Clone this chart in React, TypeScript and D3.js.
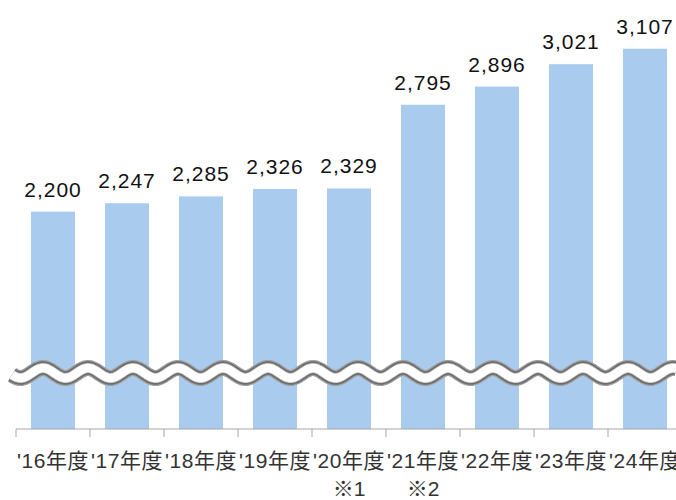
import React from 'react'
import * as d3 from 'd3'

const categories = ["'16年度", "'17年度", "'18年度", "'19年度", "'20年度", "'21年度", "'22年度", "'23年度", "'24年度"]
const values = [2200, 2247, 2285, 2326, 2329, 2795, 2896, 3021, 3107]
const notes = ['', '', '', '', '※1', '※2', '', '', '']

const width = 676
const height = 500
const baseY = 429
const fontFamily = '"Liberation Sans", Arial, "Noto Sans CJK JP", sans-serif'

export default function App() {
  // one band per fiscal year, ticks sit on the band edges
  const x = d3.scaleBand().domain(categories).range([16, 16 + 74 * categories.length])
  // axis is broken, so the bars start somewhere near 1000
  const y = d3.scaleLinear().domain([990, 3200]).range([baseY, 32])
  const barW = x.bandwidth() * 0.595

  // wavy break line across the bars
  const waveY = 373
  const wave = d3
    .line<number>()
    .x(d => d)
    .y(d => waveY - 5 * Math.cos((2 * Math.PI * (d - 43)) / 45))
    .curve(d3.curveBasis)
  const wavePts = d3.range(12, width + 2, 1.5)
  const wavePath = wave(wavePts) || ''

  const tickXs = categories.map(c => x(c) as number).concat([x.range()[1]])

  return (
    <svg
      width={width}
      height={height}
      style={{ position: 'absolute', left: 0, top: 0, background: '#fff' }}
    >
      {categories.map((c, i) => {
        const cx = (x(c) as number) + x.bandwidth() / 2
        return (
          <rect
            key={c}
            x={cx - barW / 2}
            y={y(values[i])}
            width={barW}
            height={baseY - y(values[i])}
            fill="#A9CBEE"
          />
        )
      })}

      <g fill="none" strokeLinecap="butt">
        <path d={wavePath} stroke="#a0a0a0" strokeWidth={16} />
        <path d={wavePath} stroke="#6e6e6e" strokeWidth={13.5} />
        <path d={wavePath} stroke="#bdbdbd" strokeWidth={10} />
        <path d={wavePath} stroke="#fff" strokeWidth={8.5} />
      </g>

      <line x1={16} x2={width} y1={baseY} y2={baseY} stroke="#a6a6a6" strokeWidth={1} />
      {tickXs.map((t, i) => (
        <line key={i} x1={t} x2={t} y1={baseY} y2={baseY + 8} stroke="#a6a6a6" strokeWidth={1} />
      ))}

      {categories.map((c, i) => {
        const cx = (x(c) as number) + x.bandwidth() / 2
        return (
          <g key={'lbl' + c} fontFamily={fontFamily} textAnchor="middle">
            <text x={cx} y={y(values[i]) - 15} fontSize={21} fill="#111" letterSpacing={1}>
              {d3.format(',')(values[i])}
            </text>
            <text x={cx} y={468} fontSize={21} fill="#333" letterSpacing={0.5}>
              {c}
            </text>
            {notes[i] && (
              <text x={cx} y={496} fontSize={21} fill="#333">
                {notes[i]}
              </text>
            )}
          </g>
        )
      })}
    </svg>
  )
}
